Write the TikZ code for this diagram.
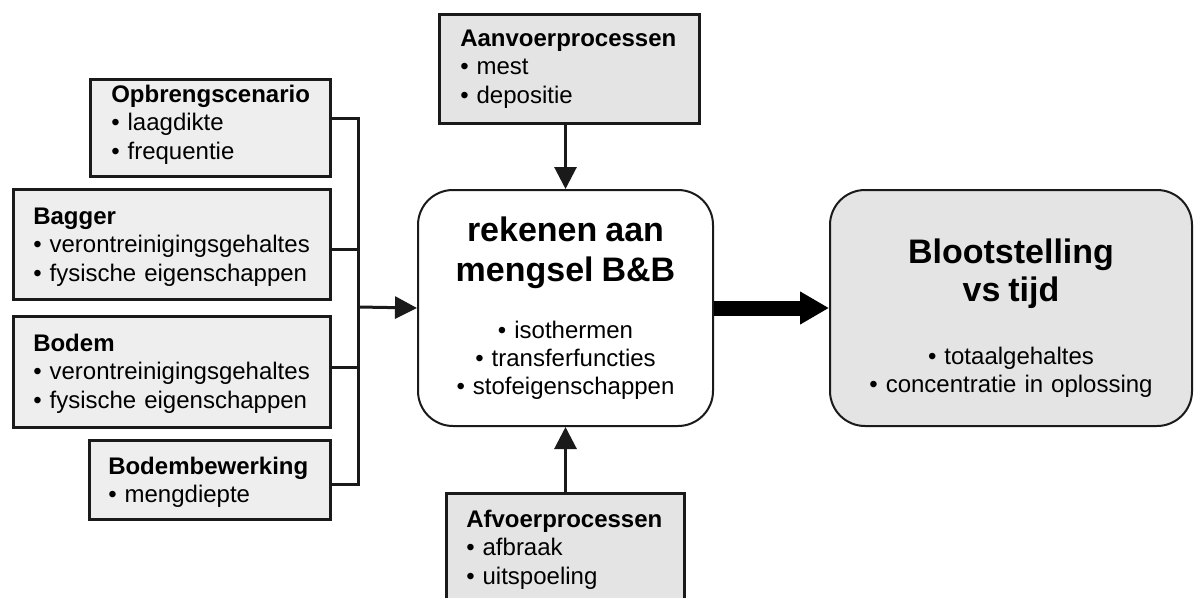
\documentclass[tikz,border=0pt]{standalone}
\usepackage{fontspec}
\setmainfont{Liberation Sans}
\usetikzlibrary{arrows.meta}
\definecolor{boxgray}{HTML}{EEEEEE}
\definecolor{procgray}{HTML}{E4E4E4}
\definecolor{edge}{HTML}{1A1A1A}
\begin{document}
\begin{tikzpicture}[x=1pt,y=-1pt,
  inbox/.style={draw=edge, line width=2.5pt, fill=boxgray, anchor=north west,
    inner ysep=0pt, align=left, font=\fontsize{24}{28.5}\selectfont},
  procbox/.style={inbox, fill=procgray},
  roundbox/.style={draw=edge, line width=2pt, rounded corners=35pt, anchor=north west,
    inner xsep=0pt, inner ysep=0pt, align=center, font=\fontsize{24}{28.5}\selectfont},
  conn/.style={draw=edge, line width=3pt, line join=miter},
  arr/.style={conn, -{Triangle[length=22pt,width=22pt]}},
  bigarr/.style={draw=black, line width=15pt, -{Triangle[length=29pt,width=31pt]}}
]
\clip (0,0) rectangle (1194,597);
\fill[white] (0,0) rectangle (1194,597);

% input boxes
\node[inbox, inner xsep=21pt, text width=198pt, text height=23pt, text depth=74pt]
  (opb) at (89,78) {\textbf{Opbrengscenario}\\•~laagdikte\\•~frequentie};
\node[inbox, inner xsep=20pt, text width=277pt, text height=35pt, text depth=75pt]
  (bag) at (12,188) {\textbf{Bagger}\\•~verontreinigingsgehaltes\\•~fysische eigenschappen};
\node[inbox, inner xsep=20pt, text width=277pt, text height=35pt, text depth=76pt]
  (bod) at (12,315) {\textbf{Bodem}\\•~verontreinigingsgehaltes\\•~fysische eigenschappen};
\node[inbox, inner xsep=19pt, text width=203pt, text height=34pt, text depth=45pt]
  (bb) at (88,439) {\textbf{Bodembewerking}\\•~mengdiepte};

% process boxes
\node[procbox, inner xsep=21pt, text width=218pt, text height=32pt, text depth=77pt]
  (aan) at (438,13) {\textbf{Aanvoerprocessen}\\•~mest\\•~depositie};
\node[procbox, inner xsep=20pt, text width=198pt, text height=34pt, text depth=94pt]
  (afv) at (445,492) {\textbf{Afvoerprocessen}\\•~afbraak\\•~uitspoeling};

% central box
\node[roundbox, fill=white, text width=295pt, text height=51pt, text depth=185pt]
  (rek) at (417,189) {\fontsize{34}{40}\selectfont\bfseries rekenen aan\\mengsel B\&B\par
  \vspace{29pt}\fontsize{24}{28}\selectfont\mdseries •~isothermen\\•~transferfuncties\\•~stofeigenschappen};

% result box
\node[roundbox, fill=procgray, text width=362pt, text height=73pt, text depth=163pt]
  (blo) at (829,189) {\fontsize{34}{38}\selectfont\bfseries Blootstelling\\vs tijd\par
  \vspace{34pt}\fontsize{24}{29}\selectfont\mdseries •~totaalgehaltes\\•~concentratie in oplossing};

% connectors
\coordinate (bus) at (358,307);
\draw[conn] ([yshift=9.5pt]opb.east) -| (bus);
\draw[conn] ([yshift=-4.5pt]bb.east) -| (bus);
\draw[conn] ([yshift=-5pt]bag.east) -- ([yshift=-5pt]bag.east -| bus);
\draw[conn] ([yshift=4.5pt]bod.east) -- ([yshift=4.5pt]bod.east -| bus);
\draw[arr] (bus) -- (rek.west);
\draw[arr] (aan.south -| rek.north) -- (rek.north);
\draw[arr] (afv.north -| rek.south) -- (rek.south);
\draw[bigarr] (rek.east) -- (blo.west);
\end{tikzpicture}
\end{document}
